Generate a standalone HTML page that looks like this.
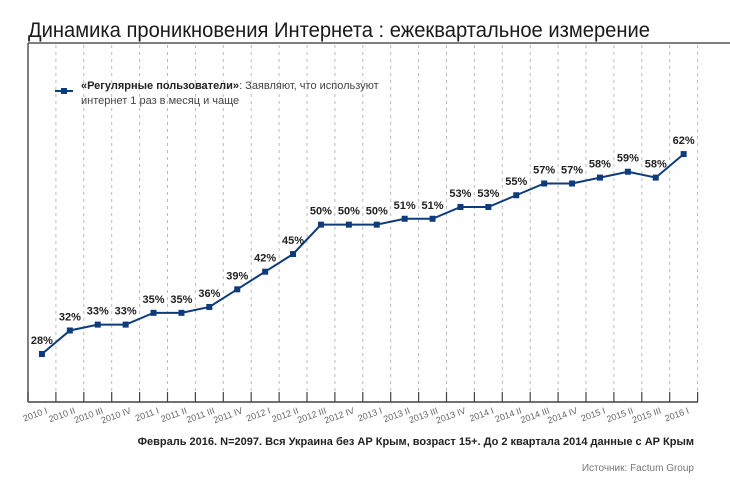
<!DOCTYPE html>
<html><head><meta charset="utf-8"><style>
body{margin:0;background:#fff;width:730px;height:486px;overflow:hidden}
svg text{font-family:"Liberation Sans","DejaVu Sans",sans-serif}
</style></head><body>
<svg width="730" height="486" xmlns="http://www.w3.org/2000/svg">
<text x="28" y="37" font-size="21" fill="#1a1a1a" textLength="622" lengthAdjust="spacingAndGlyphs">Динамика проникновения Интернета : ежеквартальное измерение</text>
<line x1="28" y1="43" x2="730" y2="43" stroke="#555" stroke-width="1.5"/>
<line x1="28" y1="43" x2="28" y2="402" stroke="#555" stroke-width="1.5"/>
<line x1="28" y1="402" x2="698" y2="402" stroke="#444" stroke-width="1.5"/>
<g id="grid" stroke="#bbb" stroke-width="1" stroke-dasharray="3,4"></g>
<g id="ticks" stroke="#444" stroke-width="1.2"></g>
<g id="xl" font-size="9" fill="#666"></g>
<polyline id="ln" fill="none" stroke="#0d3b7c" stroke-width="2"/>
<g id="mk" fill="#0d3b7c"></g>
<g id="lb" font-size="11" font-weight="bold" fill="#222" text-anchor="middle"></g>
<line x1="55" y1="91" x2="73" y2="91" stroke="#0d3b7c" stroke-width="2"/>
<rect x="61" y="88" width="6" height="6" fill="#0d3b7c"/>
<text x="81" y="89" font-size="11" fill="#444"><tspan font-weight="bold" fill="#222">«Регулярные пользователи»</tspan>: Заявляют, что используют</text>
<text x="81" y="104" font-size="11" fill="#444">интернет 1 раз в месяц и чаще</text>
<text x="694" y="445" font-size="11" font-weight="bold" fill="#222" text-anchor="end">Февраль 2016. N=2097. Вся Украина без АР Крым, возраст 15+. До 2 квартала 2014 данные с АР Крым</text>
<text x="694" y="471" font-size="10" fill="#777" text-anchor="end">Источник: Factum Group</text>
</svg>
<script>
var d=[28,32,33,33,35,35,36,39,42,45,50,50,50,51,51,53,53,55,57,57,58,59,58,62];
var q=["I","II","III","IV"];
var labs=[];for(var y=2010;y<=2015;y++)for(var j=0;j<4;j++)labs.push(y+" "+q[j]);
labs=labs.slice(0,23);labs.push("2016 I");
var ns="http://www.w3.org/2000/svg";
function el(t,a,p,txt){var e=document.createElementNS(ns,t);for(var k in a)e.setAttribute(k,a[k]);if(txt)e.textContent=txt;document.getElementById(p).appendChild(e);}
var sp=27.9,pts=[];
for(var k=0;k<=24;k++){var x=28+k*sp;if(k>0){el("line",{x1:x,y1:45,x2:x,y2:392},"grid");}el("line",{x1:x,y1:392,x2:x,y2:402},"ticks");}
for(var i=0;i<24;i++){var x=28+sp/2+i*sp,y=354-(d[i]-28)*5.88;pts.push(x+","+y);
el("rect",{x:x-3,y:y-3,width:6,height:6},"mk");
el("text",{x:x,y:y-10},"lb",d[i]+"%");
el("text",{x:x+6,y:413,"text-anchor":"end",transform:"rotate(-20 "+(x+6)+" 413)"},"xl",labs[i]);}
document.getElementById("ln").setAttribute("points",pts.join(" "));
</script>
</body></html>
